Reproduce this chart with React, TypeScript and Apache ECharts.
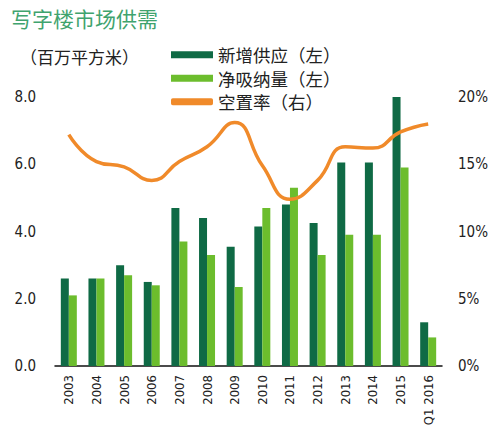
import React, { useEffect, useRef } from 'react';
import * as echarts from 'echarts';

// 年份 / 期间
const categories = ['2003', '2004', '2005', '2006', '2007', '2008', '2009', '2010', '2011', '2012', '2013', '2014', '2015', 'Q1 2016'];
// 新增供应（百万平方米）
const newSupply = [2.6, 2.6, 3.0, 2.5, 4.7, 4.4, 3.55, 4.15, 4.8, 4.25, 6.05, 6.05, 8.0, 1.3];
// 净吸纳量（百万平方米）
const netAbsorption = [2.1, 2.6, 2.7, 2.4, 3.7, 3.3, 2.35, 4.7, 5.3, 3.3, 3.9, 3.9, 5.9, 0.85];
// 空置率（%）
const vacancyRate = [17.2, 15.2, 14.8, 13.8, 15.2, 16.3, 18.1, 14.9, 12.4, 13.8, 16.3, 16.2, 17.4, 18.0];

const DARK = '#0f6a45';
const LIGHT = '#6cbd2d';
const ORANGE = '#f08a2a';
const NUM_FONT = "'DejaVu Sans Condensed', 'Liberation Sans Narrow', 'Roboto', sans-serif";
const CJK_FONT = "'Noto Sans CJK SC', sans-serif";

export default function App() {
    const chartRef = useRef<HTMLDivElement>(null);

    useEffect(() => {
        if (!chartRef.current) return;
        const chart = echarts.init(chartRef.current, undefined, { renderer: 'svg' });

        const option = {
            animation: false,
            title: [
                {
                    text: '写字楼市场供需',
                    left: 11,
                    top: 7,
                    padding: 0,
                    textStyle: { fontFamily: CJK_FONT, fontSize: 21, fontWeight: 'normal', color: '#3fa36e' }
                },
                {
                    text: '（百万平方米）',
                    left: 20,
                    top: 48,
                    padding: 0,
                    textStyle: { fontFamily: CJK_FONT, fontSize: 17, fontWeight: 'normal', color: '#222' }
                }
            ],
            legend: {
                orient: 'vertical',
                left: 171,
                top: 46,
                padding: 0,
                itemWidth: 42,
                itemHeight: 7,
                itemGap: 6,
                textStyle: { fontFamily: CJK_FONT, fontSize: 17.5, color: '#222' },
                data: [
                    { name: '新增供应（左）', icon: 'rect' },
                    { name: '净吸纳量（左）', icon: 'rect' },
                    { name: '空置率（右）', icon: 'roundRect' }
                ]
            },
            grid: { left: 55, right: 58, top: 97, bottom: 74 },
            xAxis: {
                type: 'category',
                data: categories,
                axisLine: { lineStyle: { color: '#111', width: 1.5 } },
                axisTick: { show: false },
                axisLabel: {
                    interval: 0,
                    rotate: 90,
                    margin: 9,
                    fontFamily: NUM_FONT,
                    fontSize: 13,
                    color: '#222'
                }
            },
            yAxis: [
                {
                    type: 'value',
                    min: 0,
                    max: 8,
                    interval: 2,
                    splitLine: { show: false },
                    axisLine: { show: false },
                    axisTick: { show: false },
                    axisLabel: {
                        margin: 19,
                        fontFamily: NUM_FONT,
                        fontSize: 15,
                        color: '#222',
                        formatter: (v: number) => v.toFixed(1)
                    }
                },
                {
                    type: 'value',
                    min: 0,
                    max: 20,
                    interval: 5,
                    splitLine: { show: false },
                    axisLine: { show: false },
                    axisTick: { show: false },
                    axisLabel: {
                        margin: 16,
                        fontFamily: NUM_FONT,
                        fontSize: 15,
                        color: '#222',
                        formatter: '{value}%'
                    }
                }
            ],
            series: [
                {
                    name: '新增供应（左）',
                    type: 'bar',
                    data: newSupply,
                    barWidth: 8,
                    barGap: '0%',
                    itemStyle: { color: DARK }
                },
                {
                    name: '净吸纳量（左）',
                    type: 'bar',
                    data: netAbsorption,
                    barWidth: 8,
                    itemStyle: { color: LIGHT }
                },
                {
                    name: '空置率（右）',
                    type: 'line',
                    yAxisIndex: 1,
                    data: vacancyRate,
                    smooth: 0.5,
                    symbol: 'none',
                    lineStyle: { color: ORANGE, width: 3.5 },
                    itemStyle: { color: ORANGE }
                }
            ]
        };

        chart.setOption(option);
        return () => chart.dispose();
    }, []);

    return (
        <div
            ref={chartRef}
            style={{ position: 'fixed', left: 0, top: 0, width: 500, height: 440, background: '#fff' }}
        />
    );
}
